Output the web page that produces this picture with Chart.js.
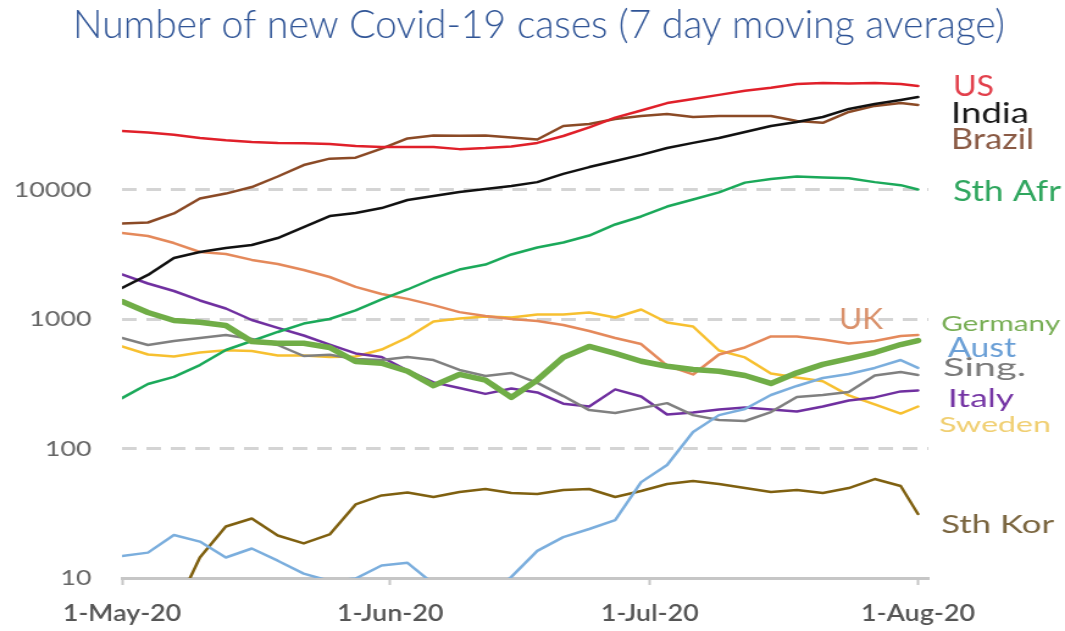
<!DOCTYPE html>
<html><head><meta charset="utf-8">
<script src="https://cdn.jsdelivr.net/npm/chart.js@4.4.1/dist/chart.umd.min.js"></script>
<style>html,body{margin:0;padding:0;background:#fff;overflow:hidden}</style>
</head><body>
<canvas id="c" width="873" height="631" style="display:block;width:1065px;height:631px"></canvas>
<script>
// ---- data ----
const chartTitle = 'Number of new Covid-19 cases (7 day moving average)';
const days = [0,3,6,9,12,15,18,21,24,27,30,33,36,39,42,45,48,51,54,57,60,63,66,69,72,75,78,81,84,87,90,92];
const xTickDays = [0,31,61,92];
const xTickLabels = ['1-May-20','1-Jun-20','1-Jul-20','1-Aug-20'];
const yTickValues = [10,100,1000,10000];

const germany = [1365,1122,973,945,891,670,650,650,603,470,456,395,306,373,337,248,338,505,614,542,472,432,407,395,366,318,384,446,495,551,635,682];
const us      = [28300,27500,26500,25000,24000,23300,22900,22800,22500,21700,21300,21300,21300,20500,20900,21500,22900,25900,30200,35900,40700,46500,50000,53800,57800,61000,65300,66400,65800,66400,65300,63000];
const india   = [1735,2190,2960,3290,3530,3730,4220,5130,6240,6590,7190,8300,8910,9570,10100,10650,11400,13200,14900,16600,18500,20900,22900,25000,27800,30900,33200,36300,41900,45700,49100,51800];
const brazil  = [5460,5560,6530,8510,9300,10450,12600,15450,17300,17600,20700,24800,26100,26000,26100,25200,24300,30900,32100,35000,37000,38300,36300,37000,37000,37000,33800,32700,39700,44200,46500,45000];
const sthAfr  = [245,315,357,441,576,676,794,922,1000,1164,1415,1690,2055,2410,2635,3150,3565,3900,4410,5370,6190,7390,8370,9500,11300,12050,12600,12400,12200,11400,10800,10000];
const uk      = [4610,4370,3860,3290,3180,2860,2660,2390,2110,1770,1560,1430,1280,1130,1055,1000,966,900,808,713,641,437,373,532,603,733,733,695,648,676,739,752];
const aust    = [14.8,15.7,21.5,19.1,14.4,16.9,13.6,10.8,9.5,9.9,12.5,13.1,9,7,7,10.2,16.2,20.7,23.9,28.0,55,74.6,134,181,202,259,304,350,376,419,482,419];
const sing    = [713,630,676,713,752,701,630,518,530,491,482,509,482,404,363,383,321,254,198,188,205,224,181,166,163,191,250,259,273,366,390,370];
const italy   = [2206,1880,1645,1390,1205,982,853,746,635,542,509,400,324,293,264,291,271,222,211,286,252,183,190,200,207,200,193,211,235,248,276,281];
const sweden  = [614,532,513,551,573,566,522,522,509,513,581,720,957,1009,1045,1028,1083,1083,1122,1027,1184,940,875,571,505,380,353,331,257,219,186,211];
const sthKor  = [9.5,6,5.5,14.4,25.0,28.8,21.3,18.5,21.7,37,43.4,45.7,42.2,46.1,48.7,45.3,44.5,47.8,48.7,42.2,47.0,53.2,56.1,53.2,49.5,46.1,47.8,45.3,49.5,58.1,51.3,31.2];

// ---- styles ----
const STRETCH = 1065 / 873;   // the reference chart is horizontally stretched
const series = [
  {name:'Germany', values:germany, color:'#70AD47', width:5.5},
  {name:'US',      values:us,      color:'#E0202A', width:2.5},
  {name:'India',   values:india,   color:'#111111', width:2.5},
  {name:'Brazil',  values:brazil,  color:'#8B4A26', width:2.5},
  {name:'Sth Afr', values:sthAfr,  color:'#1BA95A', width:2.5},
  {name:'UK',      values:uk,      color:'#E4895B', width:2.5},
  {name:'Aust',    values:aust,    color:'#7BAEDD', width:2.5},
  {name:'Sing.',   values:sing,    color:'#808080', width:2.5},
  {name:'Italy',   values:italy,   color:'#7030A0', width:2.5},
  {name:'Sweden',  values:sweden,  color:'#F7C030', width:2.5},
  {name:'Sth Kor', values:sthKor,  color:'#7F6010', width:2.5}
];
// series name labels: anchor in data coordinates (day, value at baseline)
const seriesLabels = [
  {text:'US',      day:96.05, value:52300, size:28, w:41,  color:'#E2404C'},
  {text:'India',   day:95.82, value:32600, size:28, w:78,  color:'#1a1a1a'},
  {text:'Brazil',  day:95.82, value:20600, size:29, w:83,  color:'#8A5A44'},
  {text:'Sth Afr', day:96.05, value:8080,  size:28, w:108, color:'#2FA65E'},
  {text:'UK',      day:82.86, value:830,   size:28, w:44,  color:'#D9906A'},
  {text:'Germany', day:94.67, value:815,   size:22, w:119, color:'#78AE55'},
  {text:'Aust',    day:95.47, value:513,   size:26, w:68,  color:'#6A9FD6'},
  {text:'Sing.',   day:94.90, value:366,   size:25, w:83,  color:'#7A7A7A'},
  {text:'Italy',   day:95.47, value:211,   size:25, w:66,  color:'#7434A4'},
  {text:'Sweden',  day:94.43, value:133,   size:21, w:112, color:'#F0CF72'},
  {text:'Sth Kor', day:94.67, value:22.4,  size:25, w:113, color:'#7B6640'}
];

const labelPlugin = {
  id:'seriesLabels',
  afterDatasetsDraw(chart){
    const {ctx, scales:{x, y}} = chart;
    for (const L of seriesLabels){
      ctx.save();
      ctx.font = L.size + 'px Lato';
      ctx.fillStyle = L.color;
      ctx.textAlign = 'left';
      ctx.textBaseline = 'alphabetic';
      const mw = ctx.measureText(L.text).width;
      ctx.translate(x.getPixelForValue(L.day), y.getPixelForValue(L.value));
      ctx.scale((L.w / STRETCH) / mw, 1);
      ctx.fillText(L.text, 0, 0);
      ctx.restore();
    }
  }
};
const titlePlugin = {
  id:'stretchTitle',
  afterDraw(chart){
    const ctx = chart.ctx;
    ctx.save();
    ctx.font = '300 39px Lato';
    ctx.fillStyle = '#2F5496';
    ctx.textAlign = 'center';
    ctx.textBaseline = 'alphabetic';
    const mw = ctx.measureText(chartTitle).width;
    ctx.translate(539 / STRETCH, 38);
    ctx.scale((932 / STRETCH) / mw, 1);
    ctx.fillText(chartTitle, 0, 0);
    ctx.restore();
  }
};

const datasets = series.map(s => ({
  label: s.name,
  data: days.map((d, i) => ({x:d, y:s.values[i]})),
  borderColor: s.color,
  backgroundColor: s.color,
  borderWidth: s.width,
  pointRadius: 0,
  tension: 0,
  fill: false
}));

new Chart(document.getElementById('c'), {
  type:'line',
  data:{datasets},
  plugins:[labelPlugin, titlePlugin],
  options:{
    responsive:false,
    animation:false,
    devicePixelRatio:1,
    layout:{padding:{top:60, right:112, left:0, bottom:0}},
    elements:{line:{borderCapStyle:'round', borderJoinStyle:'round'}},
    plugins:{legend:{display:false}, title:{display:false}, tooltip:{enabled:false}},
    scales:{
      x:{
        type:'linear', min:0, max:93.2,
        afterBuildTicks: s => { s.ticks = xTickDays.map(v => ({value:v})); },
        afterFit: s => { s.height = 53; },
        ticks:{autoSkip:false, maxRotation:0, padding:16, color:'#555555',
               font:{family:'Lato', size:22, weight:'600'},
               callback: v => { const i = xTickDays.indexOf(v); return i >= 0 ? xTickLabels[i] : ''; }},
        grid:{drawOnChartArea:false, drawTicks:true, tickLength:7, tickColor:'#c6c6c6', tickWidth:2},
        border:{display:true, color:'#c6c6c6', width:3}
      },
      y:{
        type:'logarithmic', min:10, max:100000,
        afterBuildTicks: s => { s.ticks = yTickValues.map(v => ({value:v})); },
        afterFit: s => { s.width = 100; },
        ticks:{autoSkip:false, padding:25, color:'#666666',
               font:{family:'Lato', size:22}, callback: v => String(v)},
        grid:{drawTicks:false, lineWidth:3,
              color: c => (c.tick && c.tick.value === 10) ? 'rgba(0,0,0,0)' : '#d4d4d4'},
        border:{display:false, dash:[12,8]}
      }
    }
  }
});
</script>
</body></html>
